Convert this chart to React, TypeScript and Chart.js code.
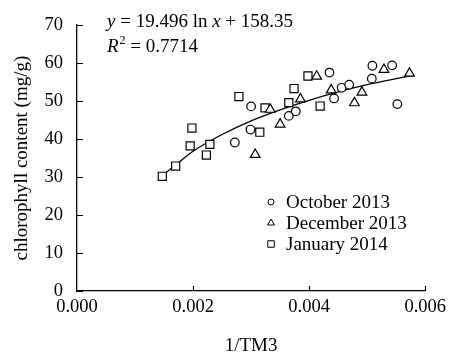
import React, { useEffect, useRef } from 'react';
import { Chart, registerables } from 'chart.js';

Chart.register(...registerables);

// October 2013 (circles)
const octX = [0.00272, 0.00299, 0.00300, 0.00365, 0.00377, 0.00435, 0.00443, 0.00456, 0.00469, 0.00508, 0.00509, 0.00543, 0.00552];
const octY = [39.1, 42.5, 48.6, 46.1, 47.3, 57.5, 50.7, 53.5, 54.3, 55.9, 59.3, 59.4, 49.2];
// December 2013 (triangles)
const decX = [0.00307, 0.00333, 0.00350, 0.00385, 0.00413, 0.00438, 0.00478, 0.00491, 0.00529, 0.00573];
const decY = [35.9, 47.8, 43.9, 50.5, 56.5, 52.9, 49.5, 52.3, 58.3, 57.3];
// January 2014 (squares)
const janX = [0.00147, 0.00170, 0.00195, 0.00198, 0.00223, 0.00229, 0.00279, 0.00315, 0.00324, 0.00365, 0.00374, 0.00398, 0.00419];
const janY = [30.2, 32.9, 38.2, 42.9, 35.8, 38.6, 51.2, 41.8, 48.2, 49.6, 53.3, 56.6, 48.7];
// Fitted curve
const fitX = [0.00147, 0.0017, 0.002, 0.0025, 0.003, 0.0035, 0.004, 0.0045, 0.005, 0.0055, 0.0058];
const fitY = [30.4, 33.2, 36.8, 41.2, 44.8, 47.7, 50.2, 52.4, 54.3, 55.9, 56.8];

const xTicks = [0, 0.002, 0.004, 0.006];
const yTicks = [0, 10, 20, 30, 40, 50, 60, 70];
const legendLabels = ['October 2013', 'December 2013', 'January 2014'];
const eqText = ['y', ' = 19.496 ln ', 'x', ' + 158.35'];
const r2Text = ['R', '2', ' = 0.7714'];

const FONT = '"Liberation Serif", "Times New Roman", serif';

const zip = (xs: number[], ys: number[]) => xs.map((x, i) => ({ x, y: ys[i] }));

function drawMarker(ctx: CanvasRenderingContext2D, style: string, x: number, y: number, r: number) {
  ctx.beginPath();
  if (style === 'circle') {
    ctx.arc(x, y, r, 0, Math.PI * 2);
  } else if (style === 'triangle') {
    for (let k = 0; k < 3; k++) {
      const a = (k * 2 * Math.PI) / 3;
      const px = x + Math.sin(a) * r;
      const py = y - Math.cos(a) * r;
      if (k === 0) ctx.moveTo(px, py);
      else ctx.lineTo(px, py);
    }
    ctx.closePath();
  } else {
    const s = r * Math.SQRT1_2;
    ctx.rect(x - s, y - s, 2 * s, 2 * s);
  }
  ctx.fillStyle = '#fff';
  ctx.fill();
  ctx.stroke();
}

const overlay = {
  id: 'overlay',
  afterDraw(chart: any) {
    const ctx: CanvasRenderingContext2D = chart.ctx;
    const xs = chart.scales.x;
    const ys = chart.scales.y;
    const area = chart.chartArea;
    ctx.save();
    ctx.strokeStyle = '#000';
    ctx.lineWidth = 1.2;
    // inside tick marks
    ctx.beginPath();
    yTicks.forEach((v) => {
      const py = Math.round(ys.getPixelForValue(v)) + 0.5;
      ctx.moveTo(area.left, py);
      ctx.lineTo(area.left + 6, py);
    });
    xTicks.forEach((v) => {
      if (v === 0) return;
      const px = Math.round(xs.getPixelForValue(v)) + 0.5;
      ctx.moveTo(px, area.bottom);
      ctx.lineTo(px, area.bottom - 5);
    });
    ctx.stroke();

    // equation
    ctx.fillStyle = '#000';
    ctx.textBaseline = 'middle';
    const reg = `19px ${FONT}`;
    const ita = `italic 19px ${FONT}`;
    let tx = 107;
    eqText.forEach((t, i) => {
      ctx.font = i % 2 === 0 ? ita : reg;
      ctx.fillText(t, tx, 22);
      tx += ctx.measureText(t).width;
    });
    tx = 107;
    ctx.font = ita;
    ctx.fillText(r2Text[0], tx, 47);
    tx += ctx.measureText(r2Text[0]).width + 1;
    ctx.font = `12px ${FONT}`;
    ctx.fillText(r2Text[1], tx, 41);
    tx += ctx.measureText(r2Text[1]).width;
    ctx.font = reg;
    ctx.fillText(r2Text[2], tx, 47);

    // legend
    const styles = ['circle', 'triangle', 'rect'];
    const radii = [3, 4, 4.6];
    const ly = [202, 223, 244];
    ctx.lineWidth = 1;
    legendLabels.forEach((lab, i) => {
      drawMarker(ctx, styles[i], 271, ly[i], radii[i]);
      ctx.fillStyle = '#000';
      ctx.font = reg;
      ctx.fillText(lab, 286, ly[i] + 1);
    });
    ctx.restore();
  },
};

export default function App() {
  const ref = useRef<HTMLCanvasElement | null>(null);
  useEffect(() => {
    if (!ref.current) return;
    const pointCommon = {
      borderColor: '#000',
      backgroundColor: '#fff',
      borderWidth: 1.2,
      showLine: false,
    };
    const chart = new Chart(ref.current, {
      type: 'scatter',
      data: {
        datasets: [
          {
            label: 'fit',
            data: zip(fitX, fitY),
            showLine: true,
            borderColor: '#000',
            borderWidth: 1.3,
            pointRadius: 0,
            cubicInterpolationMode: 'monotone',
            order: 5,
          } as any,
          { label: legendLabels[0], data: zip(octX, octY), pointStyle: 'circle', pointRadius: 4.3, ...pointCommon, order: 1 },
          { label: legendLabels[1], data: zip(decX, decY), pointStyle: 'triangle', pointRadius: 5.6, ...pointCommon, order: 2 },
          { label: legendLabels[2], data: zip(janX, janY), pointStyle: 'rect', pointRadius: 5.7, ...pointCommon, order: 3 },
        ],
      },
      options: {
        responsive: false,
        animation: false,
        layout: { padding: { top: 12, right: 23, left: 0, bottom: 0 } },
        plugins: { legend: { display: false }, tooltip: { enabled: false } },
        scales: {
          x: {
            type: 'linear',
            min: 0,
            max: 0.006,
            afterBuildTicks: (s: any) => {
              s.ticks = xTicks.map((v) => ({ value: v }));
            },
            afterFit: (s: any) => {
              s.height = 66;
            },
            grid: { display: false, drawTicks: false },
            border: { display: true, color: '#000', width: 1.3 },
            ticks: {
              padding: 5,
              color: '#000',
              font: { family: FONT, size: 18.5 },
              maxRotation: 0,
              callback: (v: any) => Number(v).toFixed(3),
            },
            title: {
              display: true,
              text: '1/TM3',
              color: '#000',
              font: { family: FONT, size: 19 },
              padding: { top: 0, bottom: 0 },
            },
          },
          y: {
            type: 'linear',
            min: 0,
            max: 70,
            afterBuildTicks: (s: any) => {
              s.ticks = yTicks.map((v) => ({ value: v }));
            },
            afterFit: (s: any) => {
              s.width = 77;
            },
            grid: { display: false, drawTicks: false },
            border: { display: true, color: '#000', width: 1.3 },
            ticks: {
              padding: 14,
              color: '#000',
              font: { family: FONT, size: 18.5 },
            },
            title: {
              display: true,
              text: 'chlorophyll content (mg/g)',
              color: '#000',
              font: { family: FONT, size: 19 },
              padding: { top: 10.5, bottom: 0 },
            },
          },
        },
      },
      plugins: [overlay],
    });
    return () => chart.destroy();
  }, []);
  return (
    <div style={{ position: 'fixed', left: 0, top: 0, width: 451, height: 357, background: '#fff' }}>
      <canvas ref={ref} width={451} height={357} style={{ display: 'block' }} />
    </div>
  );
}
